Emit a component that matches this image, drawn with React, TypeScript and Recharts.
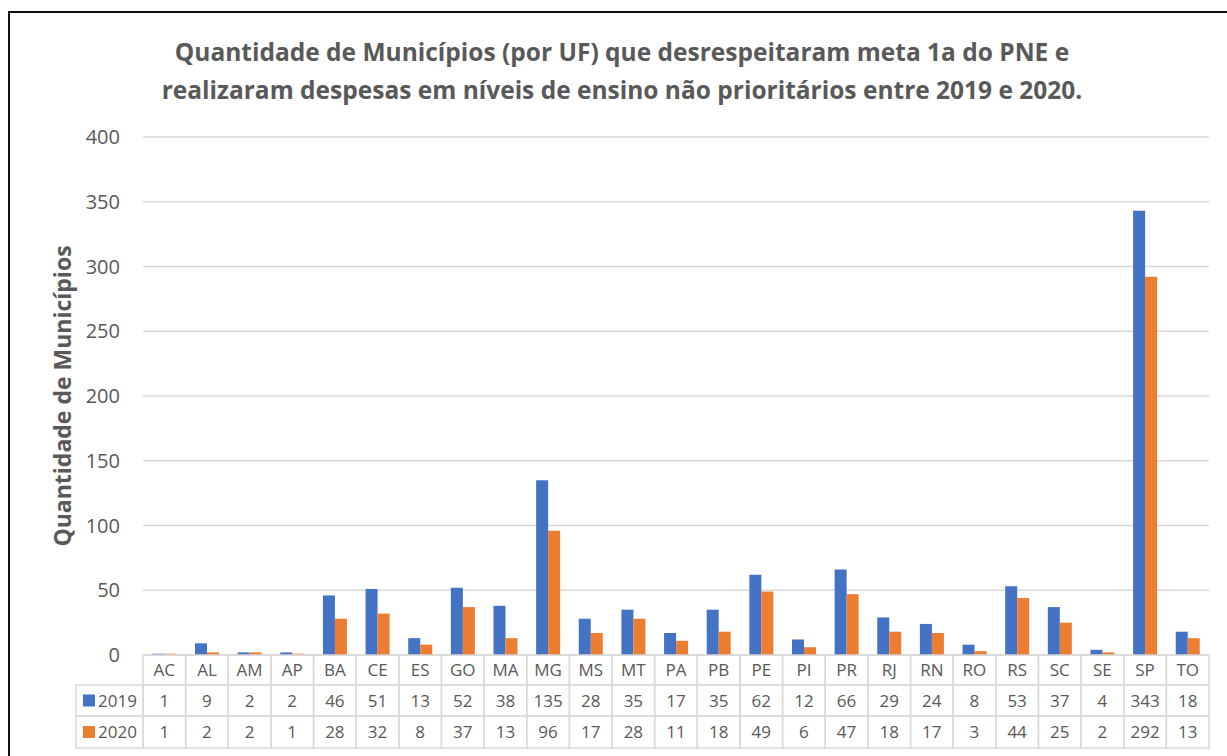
import React from 'react';
import { BarChart, Bar, XAxis, YAxis, CartesianGrid, Label } from 'recharts';

const ufs = [
  'AC', 'AL', 'AM', 'AP', 'BA', 'CE', 'ES', 'GO', 'MA', 'MG', 'MS', 'MT', 'PA',
  'PB', 'PE', 'PI', 'PR', 'RJ', 'RN', 'RO', 'RS', 'SC', 'SE', 'SP', 'TO',
];
const values2019 = [1, 9, 2, 2, 46, 51, 13, 52, 38, 135, 28, 35, 17, 35, 62, 12, 66, 29, 24, 8, 53, 37, 4, 343, 18];
const values2020 = [1, 2, 2, 1, 28, 32, 8, 37, 13, 96, 17, 28, 11, 18, 49, 6, 47, 18, 17, 3, 44, 25, 2, 292, 13];
const yTicks = [0, 50, 100, 150, 200, 250, 300, 350, 400];

const BLUE = '#4472C4';
const ORANGE = '#ED7D31';
const TEXT = '#595959';
const LINE = '#d9d9d9';
const FONT = '"Open Sans", Lato, sans-serif';

const WIDTH = 1227;
const HEIGHT = 756;
const MARGIN = { top: 137, right: 18, bottom: 8, left: 0 };
const Y_AXIS_W = 143;
const ROW_H = [30, 31, 32];
const LEGEND_W = 67;

const data = ufs.map((uf, i) => ({ uf, y2019: values2019[i], y2020: values2020[i] }));

const bandWidth = (WIDTH - MARGIN.right - MARGIN.left - Y_AXIS_W) / ufs.length;

// data table under the plot, one column per category tick
const TableTick = (props: any) => {
  const { x, y, payload } = props;
  const i = payload.index;
  const left = x - bandWidth / 2;
  const rows = [ufs[i], String(values2019[i]), String(values2020[i])];
  let top = y;
  const cells = rows.map((txt, r) => {
    const h = ROW_H[r];
    const el = (
      <g key={r}>
        <rect x={left} y={top} width={bandWidth} height={h} fill="none" stroke={LINE} strokeWidth={1.5} />
        <text x={x} y={top + h / 2 + 6} textAnchor="middle" fill={TEXT} fontSize={17} fontFamily={FONT}>
          {txt}
        </text>
      </g>
    );
    top += h;
    return el;
  });

  let legend = null;
  if (i === 0) {
    const series = [
      { name: '2019', color: BLUE },
      { name: '2020', color: ORANGE },
    ];
    let ly = y + ROW_H[0];
    legend = series.map((s, r) => {
      const h = ROW_H[r + 1];
      const el = (
        <g key={s.name}>
          <rect x={left - LEGEND_W} y={ly} width={LEGEND_W} height={h} fill="none" stroke={LINE} strokeWidth={1.5} />
          <rect x={left - LEGEND_W + 7} y={ly + h / 2 - 6} width={12} height={12} fill={s.color} />
          <text x={left - LEGEND_W + 22} y={ly + h / 2 + 6} fill={TEXT} fontSize={17} fontFamily={FONT}>
            {s.name}
          </text>
        </g>
      );
      ly += h;
      return el;
    });
  }

  return (
    <g>
      {cells}
      {legend}
    </g>
  );
};

const YLabel = (props: any) => {
  const vb = props.viewBox;
  const cx = vb.x + 62;
  const cy = vb.y + vb.height / 2;
  return (
    <text
      x={cx}
      y={cy}
      transform={`rotate(-90, ${cx}, ${cy})`}
      textAnchor="middle"
      dominantBaseline="central"
      fill={TEXT}
      fontSize={23}
      fontWeight={700}
      fontFamily={FONT}
    >
      Quantidade de Municípios
    </text>
  );
};

export default function App() {
  return (
    <div
      style={{
        position: 'absolute',
        left: 0,
        top: 0,
        width: WIDTH,
        height: HEIGHT,
        overflow: 'hidden',
        background: '#fff',
        fontFamily: FONT,
      }}
    >
      <div
        style={{
          position: 'absolute',
          left: 8,
          top: 11,
          width: 1260,
          height: 800,
          border: '2px solid #111',
        }}
      />
      <div
        style={{
          position: 'absolute',
          left: 0,
          top: 33,
          width: 1244,
          textAlign: 'center',
          color: TEXT,
          fontWeight: 700,
          fontSize: 24.5,
          lineHeight: '38px',
          whiteSpace: 'nowrap',
        }}
      >
        Quantidade de Municípios (por UF) que desrespeitaram meta 1a do PNE e
        <br />
        realizaram despesas em níveis de ensino não prioritários entre 2019 e 2020.
      </div>
      <div style={{ position: 'absolute', left: 0, top: 0 }}>
        <BarChart
          width={WIDTH}
          height={HEIGHT}
          data={data}
          margin={MARGIN}
          barCategoryGap="22%"
          barGap={0}
        >
          <CartesianGrid vertical={false} stroke={LINE} strokeWidth={1.5} />
          <XAxis
            dataKey="uf"
            interval={0}
            axisLine={false}
            tickLine={false}
            tickSize={0}
            tickMargin={0}
            height={93}
            tick={<TableTick />}
          />
          <YAxis
            width={Y_AXIS_W}
            domain={[0, 400]}
            ticks={yTicks}
            axisLine={false}
            tickLine={false}
            tickSize={0}
            tickMargin={23}
            tick={{ fill: TEXT, fontSize: 20, fontFamily: FONT }}
          >
            <Label content={<YLabel />} />
          </YAxis>
          <Bar dataKey="y2019" fill={BLUE} isAnimationActive={false} />
          <Bar dataKey="y2020" fill={ORANGE} isAnimationActive={false} />
        </BarChart>
      </div>
    </div>
  );
}
